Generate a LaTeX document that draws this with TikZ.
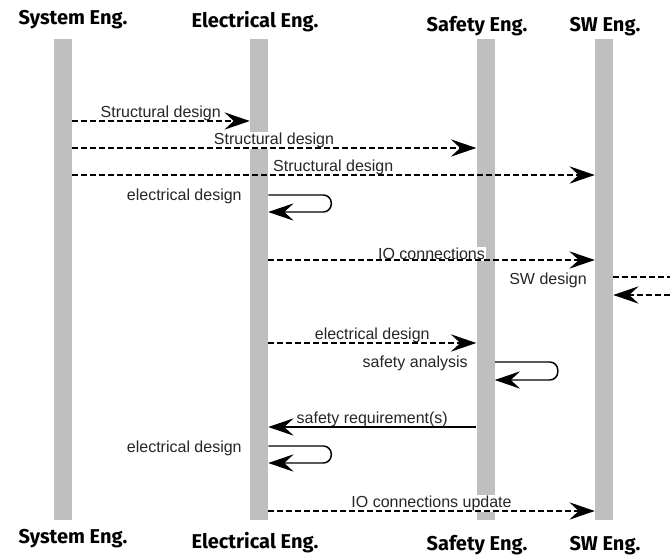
\documentclass[tikz,border=0pt]{standalone}
\usepackage{fontspec}
\setmainfont{Liberation Sans}
\newfontfamily\headfont{Fira Sans}
\usetikzlibrary{positioning,arrows.meta}

\begin{document}
\begin{tikzpicture}[
  x=0.75pt, y=-0.75pt,
  every node/.style={font=\fontsize{12}{14}\selectfont},
  lifeline/.style={fill=black!25,draw=none,inner sep=0pt,
                   minimum width=13.5pt,minimum height=360.75pt},
  head/.style={font=\headfont\bfseries\fontsize{15}{17}\selectfont,anchor=base},
  lbl/.style={fill=white,inner sep=0.8pt,text=black!85},
  msglbl/.style={lbl,behind path,midway,above=-1pt},
  tip/.style={-{Stealth[length=19pt,width=13pt,inset=7pt]}},
  msg/.style={tip,line width=1.1pt,dash pattern=on 4.5pt off 2.25pt},
  reply/.style={tip,line width=1.1pt},
  selfmsg/.style={tip,line width=1.1pt,rounded corners=6pt}
]
  \useasboundingbox (0,0) rectangle (670,555);

  % lifelines
  \node[lifeline] (sys)  at (62.5,279.5) {};
  \node[lifeline] (elec) at (259,279.5)  {};
  \node[lifeline] (safe) at (485.5,279.5){};
  \node[lifeline] (sw)   at (604,279.5)  {};

  % headers, top and bottom
  \node[head] (sysT)  at (73,25)  {System Eng.};
  \node[head] (elecT) at (255,28) {Electrical Eng.};
  \node[head] (safeT) at (477,32) {Safety Eng.};
  \node[head] (swT)   at (605,32) {SW Eng.};
  \node[head] (sysB)  at (73,543)  {System Eng.};
  \node[head] (elecB) at (255,548) {Electrical Eng.};
  \node[head] (safeB) at (477,550) {Safety Eng.};
  \node[head] (swB)   at (605,550) {SW Eng.};

  % messages
  \draw[msg] (sys.east |- 0,121) -- node[msglbl]{Structural design} (elec.west |- 0,121);
  \draw[msg] (sys.east |- 0,148) -- node[msglbl]{Structural design} (safe.west |- 0,148);
  \draw[msg] (sys.east |- 0,175) -- node[msglbl]{Structural design} (sw.west |- 0,175);

  \node[lbl,anchor=east] (edlA) at (243,196) {electrical design};
  \draw[selfmsg] (elec.east |- 0,195) -- ++(63,0) -- ++(0,17) -- ++(-63,0);

  \draw[msg] (elec.east |- 0,260) -- node[msglbl]{IO connections} (sw.west |- 0,260);

  \coordinate (outA) at (670,277);
  \coordinate (outB) at (670,295);
  \node[lbl,anchor=east] (swd) at (588,280) {SW design};
  \draw[line width=1.1pt,dash pattern=on 4.5pt off 2.25pt] (sw.east |- outA) -- (outA);
  \draw[msg] (outB) -- (sw.east |- outB);

  \draw[msg] (elec.east |- 0,343) -- node[msglbl]{electrical design} (safe.west |- 0,343);

  \node[lbl,anchor=east] (saf) at (469,363) {safety analysis};
  \draw[selfmsg] (safe.east |- 0,362) -- ++(63,0) -- ++(0,18) -- ++(-63,0);

  \draw[reply] (safe.west |- 0,427) -- node[msglbl]{safety requirement(s)} (elec.east |- 0,427);

  \node[lbl,anchor=east] (edlB) at (243,448) {electrical design};
  \draw[selfmsg] (elec.east |- 0,446) -- ++(63,0) -- ++(0,17) -- ++(-63,0);

  \draw[msg] (elec.east |- 0,511) -- node[msglbl]{IO connections update} (sw.west |- 0,511);
\end{tikzpicture}
\end{document}
